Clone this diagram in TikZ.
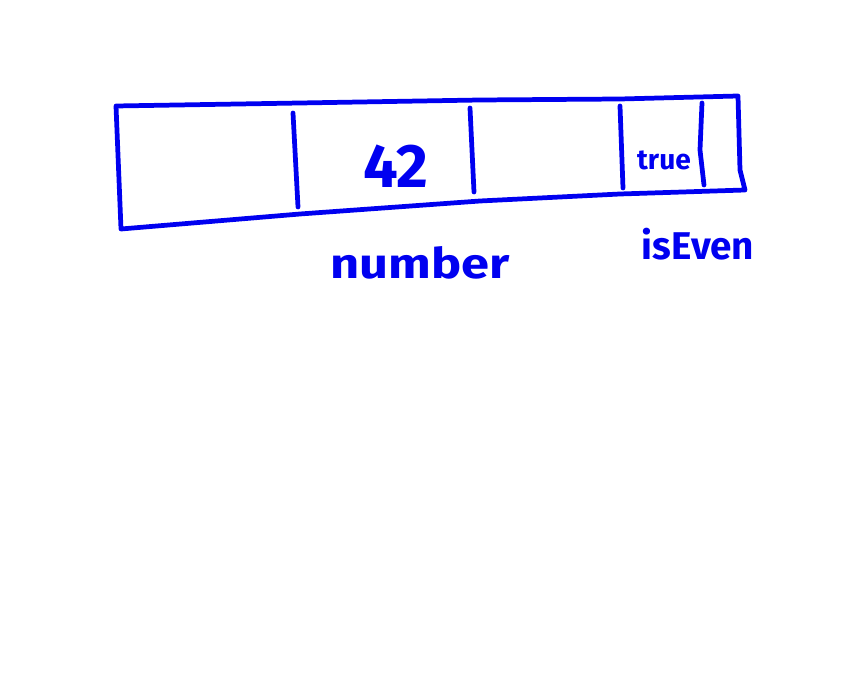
\documentclass[tikz,border=0pt]{standalone}
\usepackage{fontspec}
\setmainfont{Fira Sans}
\definecolor{pen}{RGB}{0,0,240}
\begin{document}
\begin{tikzpicture}[x=.02cm, y=-.02cm, draw=pen, line width=2.7pt, line cap=round, line join=round,
	hand/.style={text=pen, inner sep=0pt}]
	\useasboundingbox (0,0) rectangle (860,675);
	% outer box
	\draw (116,106) -- (300,103) -- (480,100) -- (620,99) -- (738,96) -- (740,170) -- (745,190)
		-- (620,194) -- (480,201) -- (300,214) -- (121,229) -- cycle;
	% dividers
	\draw (293,113) -- (298,207);
	\draw (470,108) -- (474,192);
	\draw (620,106) -- (623,188);
	\draw (702,103) -- (700,150) -- (704,185);
	% texts
	\node[hand, font=\fontsize{35}{40}\selectfont\bfseries] (answer) at (396,166) {42};
	\node[hand, font=\fontsize{16}{18}\selectfont\bfseries] (flag) at (664,160) {true};
	\node[hand, font=\fontsize{24}{28}\selectfont\bfseries, xscale=1.2] (numlabel) at (420,263) {number};
	\node[hand, font=\fontsize{22}{27}\selectfont\bfseries] (evenlabel) at (698,244) {isEven};
\end{tikzpicture}
\end{document}
